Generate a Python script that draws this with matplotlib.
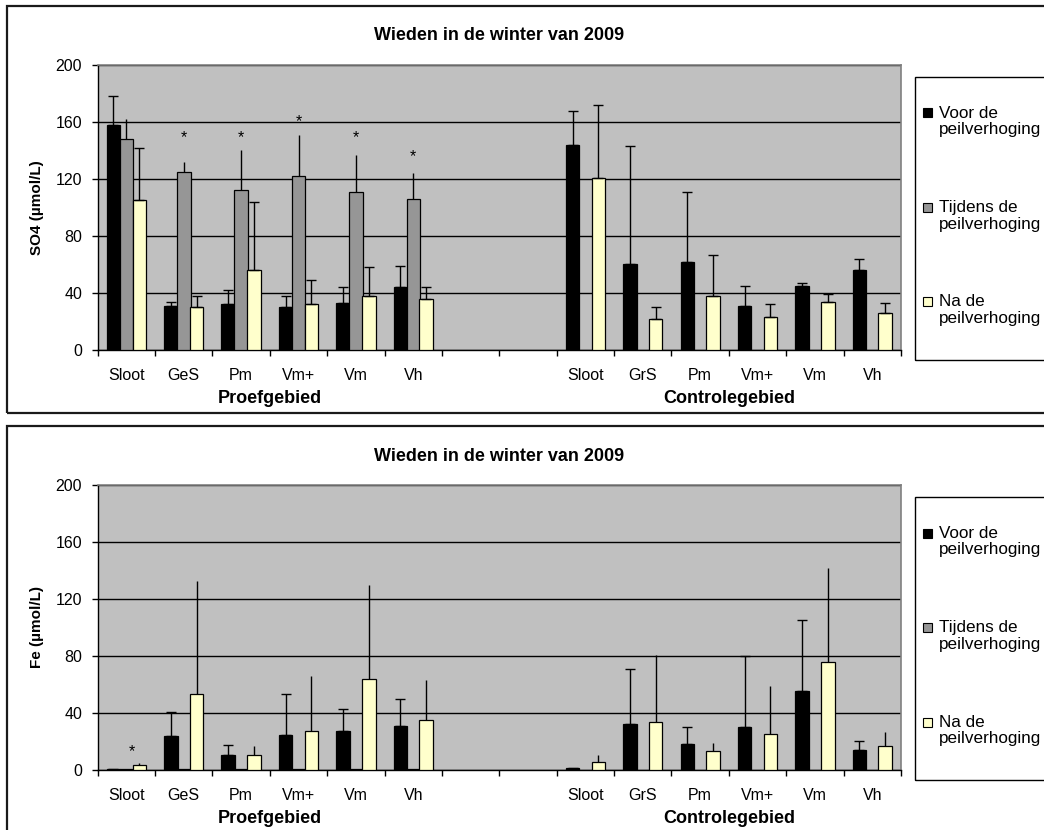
import numpy as np
import matplotlib
matplotlib.use("Agg")
import matplotlib.pyplot as plt
from matplotlib.patches import Rectangle

plt.rcParams['font.family'] = ['Liberation Sans', 'DejaVu Sans']

nan = np.nan

# categories (two empty slots between the two areas)
categories = ["Sloot", "GeS", "Pm", "Vm+", "Vm", "Vh", "", "",
              "Sloot", "GrS", "Pm", "Vm+", "Vm", "Vh"]
groups = ["Proefgebied", "Controlegebied"]
series_names = ["Voor de\npeilverhoging", "Tijdens de\npeilverhoging", "Na de\npeilverhoging"]

# SO4 values and upper error
so4_voor = [158, 31, 32, 30, 33, 44, nan, nan, 144, 60, 62, 31, 45, 56]
so4_voor_err = [20.5, 3, 10.3, 8, 11, 15, nan, nan, 24, 83.5, 49, 14, 2.3, 8]
so4_tijdens = [148, 125, 112, 122, 111, 106, nan, nan, nan, nan, nan, nan, nan, nan]
so4_tijdens_err = [14, 7, 28, 29, 25.5, 18, nan, nan, nan, nan, nan, nan, nan, nan]
so4_na = [105, 30, 56, 32, 38, 36, nan, nan, 121, 22, 38, 23, 34, 26]
so4_na_err = [37, 8, 48, 17, 20, 8, nan, nan, 51, 8, 29, 9, 5.5, 7]
so4_star_x = [1, 2, 3, 4, 5]
so4_star_y = [152.5, 152.5, 163.3, 152.3, 138.7]

# Fe values and upper error
fe_voor = [0.7, 23.7, 10.6, 24.6, 27.4, 31.2, nan, nan, 1.2, 32.1, 18.1, 30.2, 55.6, 14.1]
fe_voor_err = [nan, 17, 7.2, 29, 15.7, 18.5, nan, nan, nan, 38.5, 12, 49.8, 49.4, 6.5]
fe_tijdens = [0.6, 0.6, 0.6, 0.6, 0.6, 0.6, nan, nan, nan, nan, nan, nan, nan, nan]
fe_tijdens_err = [nan] * 14
fe_na = [3.8, 53.5, 10.6, 27.4, 64, 34.9, nan, nan, 5.6, 33.8, 13.1, 25.3, 76, 16.9]
fe_na_err = [1, 79, 6.5, 38.7, 66, 28.4, nan, nan, 5, 47, 5.7, 33.8, 66, 9.6]
fe_star_x = [0.1]
fe_star_y = [16]

colors = ["#000000", "#969696", "#FFFFCC"]
offsets = [-0.225, 0.0, 0.225]
bar_w = 0.235

W, H = 1044, 830
fig = plt.figure(figsize=(W / 100, H / 100), dpi=100)


def fx(px):
    return px / W


def fy(py):
    return 1 - py / H


def draw_panel(top_px, values, errors, caps, ylabel, star_x, star_y):
    # panel frame
    fig.patches.append(Rectangle((fx(7), fy(top_px + 407)), 1.2, (407) / H,
                                 transform=fig.transFigure, fill=False,
                                 edgecolor="#1a1a1a", linewidth=1.6))
    ax_top = top_px + 59
    ax_bot = top_px + 344
    ax = fig.add_axes([fx(97.7), fy(ax_bot), fx(901 - 97.7), (ax_bot - ax_top) / H])
    ax.set_facecolor("#C0C0C0")
    x = np.arange(len(categories))
    for vals, errs, cap, col, off in zip(values, errors, caps, colors, offsets):
        vals = np.array(vals, dtype=float)
        errs = np.array(errs, dtype=float)
        ax.bar(x + off, vals, width=bar_w, color=col, edgecolor="black",
               linewidth=0.9, zorder=3)
        ax.errorbar(x + off, vals, yerr=[np.zeros_like(errs), errs], fmt="none",
                    ecolor="black", elinewidth=1.0, capsize=3.6 if cap else 0,
                    capthick=1.0, zorder=4)
    for sx, sy in zip(star_x, star_y):
        ax.annotate("*", xy=(sx, sy), xytext=(0, -6.6), textcoords="offset points",
                    ha="center", va="baseline", fontsize=11.5, zorder=5)

    ax.set_xlim(-0.5, 13.5)
    ax.set_ylim(0, 200)
    ax.set_yticks([0, 40, 80, 120, 160, 200])
    ax.yaxis.grid(True, color="black", linewidth=1.0)
    ax.set_axisbelow(True)
    ax.set_xticks(x)
    ax.set_xticklabels(categories, fontsize=11.5)
    ax.set_xticks(np.arange(-0.5, 14, 1), minor=True)
    ax.tick_params(axis="x", which="major", length=0, pad=13)
    ax.tick_params(axis="x", which="minor", length=4, direction="out", width=1)
    ax.tick_params(axis="y", length=4.3, direction="out", width=1, labelsize=11.5, pad=7)
    for s in ["top", "right"]:
        ax.spines[s].set_color("#808080")
        ax.spines[s].set_linewidth(1.2)
    for s in ["left", "bottom"]:
        ax.spines[s].set_color("black")
        ax.spines[s].set_linewidth(1.0)
    ax.set_ylabel(ylabel, fontsize=11, fontweight="bold", labelpad=8.5)
    # group labels under the categories
    ax.text(2.5, -48 / 285, groups[0], transform=ax.get_xaxis_transform(),
            ha="center", va="center", fontsize=13, fontweight="bold")
    ax.text(10.5, -48 / 285, groups[1], transform=ax.get_xaxis_transform(),
            ha="center", va="center", fontsize=13, fontweight="bold")

    fig.text(fx(499), fy(top_px + 30), "Wieden in de winter van 2009",
             ha="center", va="center", fontsize=13, fontweight="bold")

    # legend box
    fig.patches.append(Rectangle((fx(915), fy(top_px + 354)), 0.2, (283.3) / H,
                                 transform=fig.transFigure, fill=False,
                                 edgecolor="black", linewidth=1.0))
    for i, (name, col) in enumerate(zip(series_names, colors)):
        yc = top_px + 107 + i * 94.5
        fig.patches.append(Rectangle((fx(923), fy(yc + 4.5)), fx(9), 9 / H,
                                     transform=fig.transFigure, facecolor=col,
                                     edgecolor="black", linewidth=0.8))
        first, second = name.split("\n")
        fig.text(fx(939), fy(yc), first, ha="left", va="center", fontsize=12.3)
        fig.text(fx(939), fy(yc + 16.5), second, ha="left", va="center", fontsize=12.3)
    return ax


draw_panel(6, [so4_voor, so4_tijdens, so4_na],
           [so4_voor_err, so4_tijdens_err, so4_na_err],
           [True, False, True], "SO4 (µmol/L)", so4_star_x, so4_star_y)
draw_panel(426, [fe_voor, fe_tijdens, fe_na],
           [fe_voor_err, fe_tijdens_err, fe_na_err],
           [True, False, False], "Fe (µmol/L)", fe_star_x, fe_star_y)

fig.savefig("out.png", dpi=100)
